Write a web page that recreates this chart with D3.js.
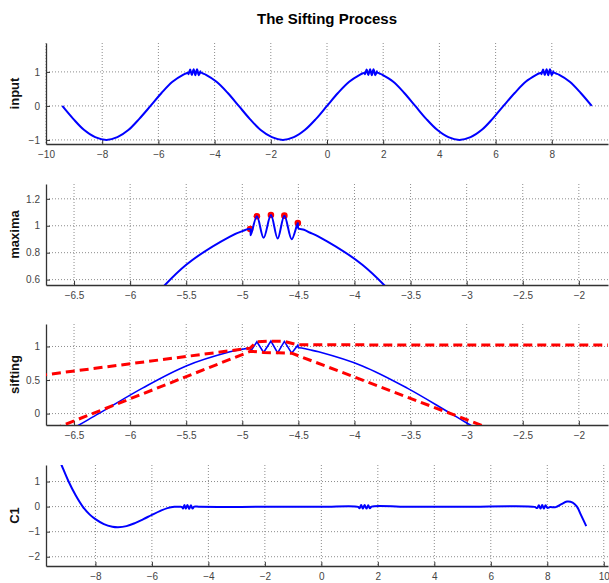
<!DOCTYPE html>
<html>
<head>
<meta charset="utf-8">
<script src="https://cdn.jsdelivr.net/npm/d3@7"></script>
<style>
  body { margin: 0; background: #fff; }
  svg { display: block; font-family: "Liberation Sans", Arial, sans-serif; }
  .grid line { stroke: #8c8c8c; stroke-dasharray: 1,2; }
  .axis path, .axis line { stroke: #333; }
  .axis text { fill: #444; font-size: 10px; }
  .ylabel { font-size: 13px; font-weight: bold; fill: #111; }
</style>
</head>
<body>
<svg id="chart" width="609" height="583"></svg>
<script>
const width = 609;
const height = 583;

// input signal: slow wave with short bursts on each crest
const inputX = [-9.42, -9.03, -8.64, -8.25, -7.85, -7.46, -7.07, -6.68, -6.28, -5.89, -5.50, -5.11, -5.0,
  -4.93, -4.925, -4.87, -4.81, -4.745, -4.685, -4.625, -4.56, -4.505, -4.50,
  -4.45, -4.4, -4.32, -3.93, -3.53, -3.14, -2.75, -2.36, -1.96, -1.57, -1.18, -0.79, -0.39, 0, 0.39, 0.79, 1.18, 1.28,
  1.35, 1.355, 1.41, 1.47, 1.535, 1.595, 1.655, 1.72, 1.775, 1.78,
  1.83, 1.88, 1.96, 2.36, 2.75, 3.14, 3.53, 3.93, 4.32, 4.71, 5.11, 5.50, 5.89, 6.28, 6.68, 7.07, 7.46, 7.56,
  7.63, 7.635, 7.69, 7.75, 7.815, 7.875, 7.935, 8.00, 8.055, 8.06,
  8.11, 8.16, 8.25, 8.64, 9.03, 9.42];
const inputY = [0, -0.38, -0.71, -0.92, -1, -0.92, -0.71, -0.38, 0, 0.38, 0.71, 0.92, 0.96,
  0.975, 0.93, 1.07, 0.91, 1.08, 0.905, 1.075, 0.90, 1.02, 0.98,
  0.97, 0.95, 0.92, 0.71, 0.38, 0, -0.38, -0.71, -0.92, -1, -0.92, -0.71, -0.38, 0, 0.38, 0.71, 0.92, 0.96,
  0.975, 0.93, 1.07, 0.91, 1.08, 0.905, 1.075, 0.90, 1.02, 0.98,
  0.97, 0.95, 0.92, 0.71, 0.38, 0, -0.38, -0.71, -0.92, -1, -0.92, -0.71, -0.38, 0, 0.38, 0.71, 0.92, 0.96,
  0.975, 0.93, 1.07, 0.91, 1.08, 0.905, 1.075, 0.90, 1.02, 0.98,
  0.97, 0.95, 0.92, 0.71, 0.38, 0];

// burst span drawn as straight segments in the sifting panel
const burstSpan = [-4.93, -4.50];

// local maxima found in the zoomed burst
const maximaX = [-4.93, -4.87, -4.745, -4.625, -4.505];
const maximaY = [0.975, 1.07, 1.08, 1.075, 1.02];

// envelopes through maxima / minima
const upperX = [-9.42, -4.93, -4.87, -4.745, -4.625, -4.505, 1.41];
const upperY = [0, 0.975, 1.07, 1.08, 1.075, 1.025, 1.015];
const lowerX = [-7.85, -4.925, -4.81, -4.685, -4.56, -1.57];
const lowerY = [-1, 0.93, 0.91, 0.905, 0.90, -1];

// first component C1
const c1X = [-9.42, -9.2, -8.95, -8.7, -8.45, -8.2, -8.0, -7.7, -7.4, -7.2, -6.9, -6.6, -6.3, -6.0, -5.7, -5.45, -5.2, -5.0,
  -4.93, -4.9, -4.85, -4.8, -4.74, -4.68, -4.62, -4.56, -4.5, -4.3, -2, 0, 1.3,
  1.35, 1.41, 1.47, 1.53, 1.6, 1.66, 1.72, 1.78, 3, 5, 7.55,
  7.64, 7.7, 7.76, 7.82, 7.88, 7.94, 8.0, 8.1, 8.3, 8.5, 8.7, 8.9, 9.05, 9.2, 9.38];
const c1Y = [2.25, 1.66, 1.0, 0.45, 0.0, -0.32, -0.5, -0.7, -0.8, -0.82, -0.78, -0.66, -0.5, -0.33, -0.17, -0.06, -0.01, -0.01,
  -0.02, -0.08, 0.06, -0.08, 0.06, -0.09, 0.05, -0.08, 0.0, -0.01, -0.01, -0.01, -0.01,
  -0.07, 0.06, -0.08, 0.06, -0.08, 0.05, -0.07, 0.0, -0.01, -0.01, -0.01,
  -0.06, 0.05, -0.08, 0.06, -0.08, 0.05, -0.05, -0.02, -0.02, 0.1, 0.2, 0.16, 0.0, -0.35, -0.78];

// tick values
const wideTicks = [-10, -8, -6, -4, -2, 0, 2, 4, 6, 8];
const c1Ticks = [-8, -6, -4, -2, 0, 2, 4, 6, 8, 10];
const zoomTicks = [-6.5, -6, -5.5, -5, -4.5, -4, -3.5, -3, -2.5, -2];

const left = 46;
const right = 608;
const panelH = 101;

const svg = d3.select('#chart');

svg.append('text')
  .attr('x', 327)
  .attr('y', 24)
  .attr('text-anchor', 'middle')
  .style('font-size', '15px')
  .style('font-weight', 'bold')
  .text('The Sifting Process');

function drawPanel(i, top, xDomain, yDomain, xTicks, yTicks, label) {
  const x = d3.scaleLinear().domain(xDomain).range([left, right]);
  const y = d3.scaleLinear().domain(yDomain).range([top + panelH, top]);
  const g = svg.append('g');

  g.append('clipPath').attr('id', 'clip' + i)
    .append('rect')
    .attr('x', left).attr('y', top)
    .attr('width', right - left).attr('height', panelH);

  // dotted grid
  const grid = g.append('g').attr('class', 'grid');
  grid.selectAll('.gx').data(xTicks).enter().append('line')
    .attr('x1', d => x(d)).attr('x2', d => x(d))
    .attr('y1', top).attr('y2', top + panelH);
  grid.selectAll('.gy').data(yTicks).enter().append('line')
    .attr('x1', left).attr('x2', right)
    .attr('y1', d => y(d)).attr('y2', d => y(d));

  g.append('g')
    .attr('class', 'axis')
    .attr('transform', `translate(0,${top + panelH})`)
    .call(d3.axisBottom(x).tickValues(xTicks).tickSize(-4).tickSizeOuter(0).tickPadding(7)
      .tickFormat(d3.format('')));

  g.append('g')
    .attr('class', 'axis')
    .attr('transform', `translate(${left},0)`)
    .call(d3.axisLeft(y).tickValues(yTicks).tickSize(-4).tickSizeOuter(0).tickPadding(6)
      .tickFormat(d3.format('')));

  g.selectAll('.axis .domain').attr('stroke-width', 1.3);

  g.append('text')
    .attr('class', 'ylabel')
    .attr('transform', `translate(19,${top + panelH / 2}) rotate(-90)`)
    .attr('text-anchor', 'middle')
    .text(label);

  const plot = g.append('g').attr('clip-path', `url(#clip${i})`);
  return { x, y, plot };
}

const inputPts = d3.zip(inputX, inputY);
const smooth = d3.curveCatmullRom.alpha(0.5);

// panel 1: input
const p1 = drawPanel(1, 43, [-10, 10], [-1.12, 1.85], wideTicks, [-1, 0, 1], 'input');
p1.plot.append('path')
  .datum(inputPts)
  .attr('fill', 'none')
  .attr('stroke', '#0000ff')
  .attr('stroke-width', 2)
  .attr('d', d3.line().x(d => p1.x(d[0])).y(d => p1.y(d[1])).curve(smooth));

// panel 2: maxima
const p2 = drawPanel(2, 184, [-6.75, -1.74], [0.56, 1.31], zoomTicks, [0.6, 0.8, 1, 1.2], 'maxima');
p2.plot.selectAll('circle')
  .data(d3.zip(maximaX, maximaY))
  .enter().append('circle')
  .attr('cx', d => p2.x(d[0]))
  .attr('cy', d => p2.y(d[1]))
  .attr('r', 3.3)
  .attr('fill', '#ff0000');
p2.plot.append('path')
  .datum(inputPts)
  .attr('fill', 'none')
  .attr('stroke', '#0000ff')
  .attr('stroke-width', 2)
  .attr('d', d3.line().x(d => p2.x(d[0])).y(d => p2.y(d[1])).curve(smooth));

// panel 3: sifting
const p3 = drawPanel(3, 324, [-6.75, -1.74], [-0.17, 1.335], zoomTicks, [0, 0.5, 1], 'sifting');
const pieces = [
  { pts: inputPts.filter(d => d[0] <= burstSpan[0]), curve: smooth },
  { pts: inputPts.filter(d => d[0] >= burstSpan[0] && d[0] <= burstSpan[1]), curve: d3.curveLinear },
  { pts: inputPts.filter(d => d[0] >= burstSpan[1]), curve: smooth }
];
pieces.forEach(pc => {
  p3.plot.append('path')
    .datum(pc.pts)
    .attr('fill', 'none')
    .attr('stroke', '#0000ff')
    .attr('stroke-width', 1.6)
    .attr('d', d3.line().x(d => p3.x(d[0])).y(d => p3.y(d[1])).curve(pc.curve));
});
[d3.zip(upperX, upperY), d3.zip(lowerX, lowerY)].forEach(env => {
  p3.plot.append('path')
    .datum(env)
    .attr('fill', 'none')
    .attr('stroke', '#ff0000')
    .attr('stroke-width', 3)
    .attr('stroke-dasharray', '9,5')
    .attr('d', d3.line().x(d => p3.x(d[0])).y(d => p3.y(d[1])));
});

// panel 4: C1
const p4 = drawPanel(4, 465, [-9.75, 10.15], [-2.37, 1.66], c1Ticks, [-2, -1, 0, 1], 'C1');
p4.plot.append('path')
  .datum(d3.zip(c1X, c1Y))
  .attr('fill', 'none')
  .attr('stroke', '#0000ff')
  .attr('stroke-width', 2)
  .attr('d', d3.line().x(d => p4.x(d[0])).y(d => p4.y(d[1])).curve(smooth));
</script>
</body>
</html>
